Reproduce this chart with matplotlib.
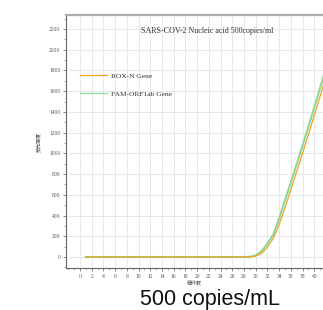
import matplotlib
matplotlib.use("Agg")
import matplotlib.pyplot as plt
from matplotlib.ticker import MultipleLocator

# cycle numbers and fluorescence readings
cycles = list(range(1, 43))
rox_n = [0] * 29 + [8, 35, 95, 180, 310, 475, 650, 825, 1000, 1180, 1365, 1550, 1740]
fam_orf1ab = [0] * 28 + [2, 15, 55, 130, 215, 370, 545, 720, 895, 1075, 1255, 1440, 1630, 1820]

x_ticks = list(range(0, 41, 2))
y_ticks = list(range(0, 2201, 200))

plt.rcParams['font.family'] = ['Liberation Serif', 'Noto Sans CJK SC']

fig = plt.figure(figsize=(3.23, 3.10), dpi=100)
ax = fig.add_axes([66 / 323, 42 / 310, 1 - 66 / 323, 253 / 310])

ax.plot(cycles, fam_orf1ab, color='#8ad99a', lw=1.5, label='FAM-ORF1ab Gene', zorder=3)
ax.plot(cycles, rox_n, color='#f2a21e', lw=0.9, label='ROX-N Gene', zorder=4)

ax.set_xlim(-2.4, 41.5)
ax.set_ylim(-106, 2335)
ax.set_xticks(x_ticks)
ax.set_yticks(y_ticks)
ax.xaxis.set_minor_locator(MultipleLocator(1))
ax.yaxis.set_minor_locator(MultipleLocator(100))
ax.tick_params(which='major', labelsize=4, length=2.5, width=0.5, pad=1.5, colors='#555555')
ax.tick_params(which='minor', length=1.5, width=0.4, colors='#777777')
ax.grid(True, which='major', color='#e4e4e4', lw=0.6)
ax.set_axisbelow(True)

for s in ['left', 'bottom']:
    ax.spines[s].set_color('#666666')
    ax.spines[s].set_linewidth(0.8)
ax.spines['top'].set_color('#aaaaaa')
ax.spines['top'].set_linewidth(1.6)
ax.spines['right'].set_visible(False)

ax.text(0.55, 0.935, 'SARS-COV-2 Nucleic acid 500copies/ml', transform=ax.transAxes,
        ha='center', va='center', fontsize=5.8, color='#333333')

handles, labels = ax.get_legend_handles_labels()
leg = ax.legend(handles[::-1], labels[::-1], loc='upper left', bbox_to_anchor=(0.03, 0.8),
                frameon=False, fontsize=5.4, handlelength=3.6, labelspacing=1.6, handletextpad=0.5,
                labelcolor='#333333')
for ln in leg.get_lines():
    ln.set_linewidth(0.9)

ax.set_ylabel('荧光强度', fontsize=3.6, color='#444444', labelpad=5)
ax.set_xlabel('循环数', fontsize=3.6, color='#444444', labelpad=2)

fig.text(210 / 323, 1 - 299 / 310, '500 copies/mL', ha='center', va='center',
         fontsize=15.5, family='Liberation Sans', color='#111111')

fig.savefig('out.png', dpi=100)
